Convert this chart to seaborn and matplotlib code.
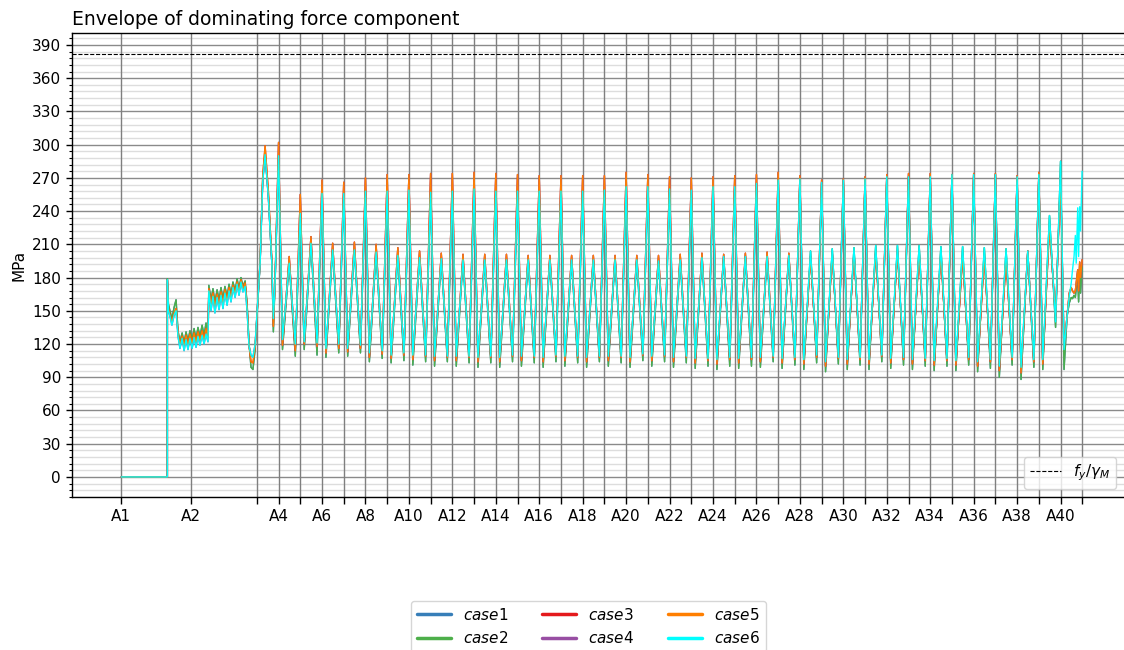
import numpy as np
import pandas as pd
import seaborn as sns
import matplotlib
matplotlib.use("Agg")
import matplotlib.pyplot as plt
from matplotlib.lines import Line2D
from matplotlib.ticker import MultipleLocator

# ---------------- data ----------------
support_names = [f"A{i}" for i in range(1, 42)]
support_x = [0.0, 32.0, 62.4, 72.4, 82.4, 92.4, 102.4, 112.4, 122.4, 132.4, 142.4,
             152.4, 162.4, 172.4, 182.4, 192.4, 202.4, 212.4, 222.4, 232.4, 242.4,
             252.4, 262.4, 272.4, 282.4, 292.4, 302.4, 312.4, 322.4, 332.4, 342.4,
             352.4, 362.4, 372.4, 382.4, 392.4, 402.4, 412.4, 422.4, 432.4, 442.4]
fy_gamma = 381.8

cases = ["case1", "case2", "case3", "case4", "case5", "case6"]
case_labels = ["$case1$", "$case2$", "$case3$", "$case4$", "$case5$", "$case6$"]

# start region A1 -> A4 (chainage in m)
pre_x = [0, 21.2, 21.2, 21.7, 22.4, 23.3, 24.3, 25.2, 26.1, 27.0, 28.0, 28.9, 29.8, 30.7,
         31.6, 32.6, 33.5, 34.4, 35.3, 36.2, 37.2, 38.1, 39.0, 39.9, 40.3, 41.3, 42.2,
         43.1, 44.1, 45.0, 45.9, 46.8, 47.7, 48.7, 49.6, 50.5, 51.4, 52.4, 53.3, 54.2,
         55.1, 56.0, 57.0, 57.9, 58.8, 59.7, 60.6, 61.6, 62.4, 63.9, 65.1, 66.2, 67.7,
         69.3, 70.0, 70.8]
pre_green = [0, 0, 179, 156, 150, 143, 153, 160, 132, 122, 130, 121, 131, 123, 132, 124,
             134, 125, 135, 127, 137, 128, 139, 130, 173, 160, 170, 158, 169, 160, 171,
             161, 172, 163, 174, 165, 176, 168, 179, 170, 180, 172, 177, 157, 121, 99, 97,
             115, 143, 193, 268, 292, 253, 193, 131, 176]
pre_orange = [0, 0, 178, 152, 146, 140, 148, 152, 130, 119, 127, 118, 128, 119, 129, 120,
              130, 121, 131, 123, 132, 124, 134, 126, 170, 155, 166, 153, 165, 155, 167,
              156, 169, 159, 171, 161, 173, 165, 176, 167, 178, 170, 175, 154, 119, 104,
              103, 118, 144, 195, 272, 299, 258, 196, 136, 178]
pre_cyan = [0, 0, 178, 150, 145, 137, 146, 150, 127, 116, 125, 114, 124, 115, 125, 116,
            126, 117, 127, 119, 128, 120, 129, 122, 168, 150, 163, 148, 162, 151, 164, 152,
            166, 155, 168, 158, 171, 162, 174, 164, 176, 167, 172, 150, 118, 110, 108, 120,
            145, 193, 266, 291, 252, 193, 143, 176]

# peaks at supports A4 .. A40
spike_hi = [302, 255, 268, 266, 270, 273, 273, 274, 274, 275, 274, 273, 272, 272, 272,
            272, 275, 273, 271, 270, 271, 272, 273, 275, 272, 268, 269, 271, 273, 274,
            274, 273, 274, 274, 272, 275, 272]
spike_cyan = [290, 238, 256, 256, 258, 258, 259, 257, 258, 260, 258, 258, 258, 258, 258,
              259, 262, 262, 260, 259, 262, 262, 265, 268, 269, 266, 268, 269, 271, 271,
              271, 273, 273, 273, 271, 273, 285]

# mid-span peaks, spans A4-A5 .. A39-A40
hump_hi = [199, 217, 211, 212, 210, 207, 204, 202, 201, 201, 201, 200, 200, 200, 200, 200,
           200, 200, 201, 202, 201, 202, 203, 202, 199, 202, 203, 204, 204, 203, 202, 200,
           199, 197, 204, 226]
hump_cyan = [193, 211, 205, 205, 203, 200, 198, 197, 196, 196, 196, 196, 196, 196, 196,
             196, 196, 195, 196, 198, 199, 199, 199, 200, 204, 206, 207, 209, 209, 209,
             208, 208, 207, 206, 204, 236]

# minima after each support / before next support
min1_green = [115, 115, 108, 109, 104, 103, 101, 100, 100, 99, 99, 100, 99, 100, 99, 100,
              99, 100, 99, 98, 97, 98, 99, 98, 97, 95, 97, 97, 98, 97, 96, 96, 95, 90, 88, 97]
min1_orange = [119, 120, 112, 113, 108, 107, 106, 105, 105, 104, 104, 105, 104, 105, 104,
               105, 104, 105, 104, 103, 102, 103, 104, 103, 102, 100, 102, 102, 103, 102,
               101, 101, 100, 96, 94, 102]
min1_cyan = [124, 122, 116, 116, 112, 110, 110, 109, 109, 108, 108, 109, 108, 109, 108, 109,
             108, 109, 108, 107, 106, 107, 108, 107, 106, 104, 106, 106, 107, 106, 105, 105,
             104, 100, 99, 106]
min2_green = [109, 110, 112, 112, 107, 105, 104, 104, 103, 103, 104, 103, 104, 103, 104, 103,
              105, 104, 103, 100, 100, 100, 104, 101, 103, 102, 101, 104, 101, 100, 100, 101,
              98, 101, 99, 135]
min2_orange = [114, 118, 116, 116, 111, 110, 109, 108, 108, 108, 109, 108, 109, 108, 108,
               108, 110, 109, 108, 105, 106, 106, 108, 106, 108, 107, 106, 109, 106, 105,
               105, 106, 104, 106, 104, 145]
min2_cyan = [120, 121, 120, 119, 114, 112, 110, 109, 109, 109, 110, 109, 110, 109, 109, 109,
             111, 110, 109, 107, 108, 108, 109, 108, 110, 108, 108, 110, 108, 107, 107, 108,
             106, 108, 106, 140]

# last span A40 -> A41
end_x = [434.0, 435.4, 436.4, 437.3, 437.9, 438.6, 439.2, 439.6, 440.3, 440.7, 441.2,
         441.6, 442.3]
end_green = [97, 145, 157, 162, 161, 164, 162, 170, 178, 158, 184, 166, 190]
end_orange = [117, 145, 166, 171, 168, 166, 168, 175, 187, 168, 194, 180, 196]
end_cyan = [115, 145, 163, 175, 187, 199, 218, 193, 243, 199, 244, 222, 276]

groups = {
    "case1": (pre_green, spike_cyan, hump_cyan, min1_green, min2_green, end_green),
    "case2": (pre_green, spike_cyan, hump_cyan, min1_green, min2_green, end_green),
    "case3": (pre_orange, spike_hi, hump_hi, min1_orange, min2_orange, end_orange),
    "case4": (pre_cyan, spike_hi, hump_hi, min1_orange, min2_orange, end_orange),
    "case5": (pre_orange, spike_hi, hump_hi, min1_orange, min2_orange, end_orange),
    "case6": (pre_cyan, spike_cyan, hump_cyan, min1_cyan, min2_cyan, end_cyan),
}

span_offsets = (0.0, 1.8, 4.9, 7.7)  # spike, min, mid peak, min within a 10 m span

rows = []
for c in cases:
    pre, spk, hmp, m1, m2, endv = groups[c]
    for x, v in zip(pre_x, pre):
        rows.append((c, x, v))
    for j in range(len(hmp)):
        xs = support_x[3 + j]
        for off, v in zip(span_offsets, (spk[j], m1[j], hmp[j], m2[j])):
            rows.append((c, xs + off, v))
    rows.append((c, support_x[39], spk[36]))
    for x, v in zip(end_x, endv):
        rows.append((c, x, v))
df = pd.DataFrame(rows, columns=["case", "x", "MPa"])

colors = ["#377eb8", "#4daf4a", "#e41a1c", "#984ea3", "#ff7f00", "#00ffff"]

# ---------------- plot ----------------
sns.set_style("white")
plt.rcParams.update({
    "font.family": ["DejaVu Sans"],
    "text.color": "black",
    "axes.labelcolor": "black",
    "xtick.color": "black",
    "ytick.color": "black",
    "axes.edgecolor": "black",
})

fig = plt.figure(figsize=(11.24, 6.5), dpi=100)
ax = fig.add_axes([72 / 1124, 153 / 650, 1052 / 1124, 464 / 650])

ax.set_xlim(-22.7, 461.6)
ax.set_ylim(-18.1, 400.8)

for xs in support_x:
    ax.axvline(xs, color="#7f7f7f", lw=1.0, zorder=0.6)

ax.yaxis.set_major_locator(MultipleLocator(30))
ax.yaxis.set_minor_locator(MultipleLocator(6))
ax.grid(False)
ax.yaxis.grid(True, which="major", color="#8a8a8a", lw=1.0, zorder=0.5)
ax.yaxis.grid(True, which="minor", color="#dddddd", lw=1.0, zorder=0.4)
ax.set_axisbelow(True)

sns.lineplot(data=df, x="x", y="MPa", hue="case", hue_order=cases, palette=colors,
             estimator=None, sort=False, lw=1.0, legend=False, ax=ax, zorder=2)

ax.axhline(fy_gamma, color="black", ls="--", lw=0.8, zorder=3)

tick_labels = [n if (i < 2 or (i + 1) % 2 == 0) and i < 40 else "" for i, n in enumerate(support_names)]
ax.set_xticks(support_x)
ax.set_xticklabels(tick_labels, fontsize=11)
ax.tick_params(axis="x", which="major", length=5, width=1, direction="out", bottom=True,
               colors="black")
ax.tick_params(axis="y", which="major", length=4.5, width=1, labelsize=11, left=True,
               colors="black")
ax.tick_params(axis="y", which="minor", length=2.5, width=0.8, left=True, colors="black")
ax.set_xlabel("")
ax.set_ylabel("MPa", fontsize=11, color="black")
ax.set_title("Envelope of dominating force component", loc="left", fontsize=13.5,
             color="black")

for s in ["top", "left", "bottom"]:
    ax.spines[s].set_color("black")
    ax.spines[s].set_linewidth(1.0)
ax.spines["right"].set_visible(False)

fy_handle = Line2D([], [], color="black", ls="--", lw=0.8)
ax.legend([fy_handle], [r"$f_y/\gamma_M$"], loc="lower right", fontsize=11)

handles = [Line2D([], [], color=col, lw=2.5) for col in colors]
fig.legend(handles, case_labels, loc="upper center", bbox_to_anchor=(588.5 / 1124, 1 - 593 / 650),
           ncol=3, fontsize=11, columnspacing=2.25, handlelength=2.2)

fig.savefig("out.png", dpi=100)
